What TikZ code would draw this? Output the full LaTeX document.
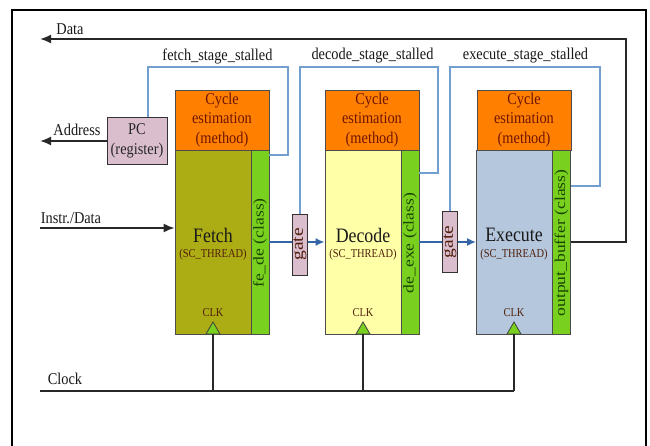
\documentclass[tikz,border=0pt]{standalone}
\usepackage{fontspec}
\setmainfont{Liberation Serif}
\newfontfamily\nf{Liberation Serif}[FakeStretch=0.87]
\usetikzlibrary{arrows.meta}
\definecolor{cycor}{RGB}{255,128,0}
\definecolor{cyctxt}{RGB}{110,20,0}
\definecolor{olivef}{RGB}{172,172,20}
\definecolor{yellf}{RGB}{255,255,168}
\definecolor{bluef}{RGB}{180,199,220}
\definecolor{grnf}{RGB}{122,208,30}
\definecolor{grntxt}{RGB}{25,70,0}
\definecolor{pinkf}{RGB}{218,190,206}
\definecolor{stallc}{RGB}{114,159,207}
\definecolor{flowc}{RGB}{52,101,164}
\definecolor{wirec}{RGB}{40,40,40}
\definecolor{thtxt}{RGB}{80,30,10}
\newcommand{\sq}[1]{\scalebox{1}[0.85]{#1}}
\tikzset{
  cycbox/.style={draw=black!70, line width=0.8pt, fill=cycor, text=cyctxt, align=center, inner sep=0pt,
    minimum width=94pt, minimum height=60pt, font=\nf\fontsize{16.5}{19.5}\selectfont},
  stagebox/.style={draw=black!70, line width=0.8pt, inner sep=0pt, minimum width=76pt, minimum height=184pt},
  strip/.style={draw=black!70, line width=0.8pt, fill=grnf, inner sep=0pt, minimum width=18pt, minimum height=184pt},
  striptxt/.style={rotate=90, text=grntxt, inner sep=0pt, font=\fontsize{17.6}{17.6}\selectfont},
  gatebox/.style={draw=black!80, line width=0.8pt, fill=pinkf, inner sep=0pt, minimum width=15pt, minimum height=61pt},
  gatetxt/.style={rotate=90, text=thtxt, inner sep=0pt, font=\fontsize{19.5}{19.5}\selectfont},
  bigtxt/.style={text=black!90, inner sep=0pt, font=\nf\fontsize{20.5}{20.5}\selectfont},
  smalltxt/.style={text=thtxt, inner sep=0pt, font=\nf\fontsize{12}{12}\selectfont},
  clktxt/.style={text=thtxt, inner sep=0pt, font=\nf\fontsize{12}{12}\selectfont},
  lbl/.style={text=black!90, inner sep=0pt, font=\nf\fontsize{16.5}{16.5}\selectfont},
  wire/.style={draw=wirec, line width=1.8pt},
  stall/.style={draw=stallc, line width=1.8pt},
  flowline/.style={draw=flowc, line width=1.8pt},
  flow/.style={draw=flowc, line width=1.8pt, -{Latex[length=9pt,width=8pt]}},
  clktri/.style={draw=black!75, line width=0.8pt, fill=grnf}
}
\begin{document}
\begin{tikzpicture}[x=1pt,y=-1pt]
\useasboundingbox (0,0) rectangle (650,446);
\fill[white] (0,0) rectangle (650,446);
% outer frame
\draw[black, line width=1.8pt] (12,446) -- (12,10) -- (646,10) -- (646,446);

% ---------- Fetch ----------
\node[cycbox] (fc) at (222,120) {Cycle\\estimation\\(method)};
\node[stagebox, fill=olivef] (fs) at (213,242) {};
\node[strip] (fstr) at (260,242) {};
\node[striptxt] (fstrt) at (260,243) {\sq{fe\_de (class)}};
\node[bigtxt] (fname) at (213,235) {Fetch};
\node[smalltxt] (fth) at (213,255) {(SC\_THREAD)};
\node[clktxt] (fclk) at (213,313) {CLK};
\draw[clktri] (206,334) -- (213,322) -- (220,334) -- cycle;
\coordinate (fclkin) at (213,334);

% ---------- Decode ----------
\node[cycbox] (dc) at (372,120) {Cycle\\estimation\\(method)};
\node[stagebox, fill=yellf] (ds) at (363,242) {};
\node[strip] (dstr) at (410,242) {};
\node[striptxt] (dstrt) at (410,243) {\sq{de\_exe (class)}};
\node[bigtxt] (dname) at (363,235) {Decode};
\node[smalltxt] (dth) at (363,255) {(SC\_THREAD)};
\node[clktxt] (dclk) at (363,313) {CLK};
\draw[clktri] (356,334) -- (363,322) -- (370,334) -- cycle;
\coordinate (dclkin) at (363,334);

% ---------- Execute ----------
\node[cycbox] (ec) at (524,120) {Cycle\\estimation\\(method)};
\node[stagebox, fill=bluef] (es) at (514.5,242) {};
\node[strip] (estr) at (561.5,242) {};
\node[striptxt] (estrt) at (561.5,243) {\sq{output\_buffer (class)}};
\node[bigtxt] (ename) at (514,235) {Execute};
\node[smalltxt] (eth) at (514,255) {(SC\_THREAD)};
\node[clktxt] (eclk) at (514,313) {CLK};
\draw[clktri] (507,334) -- (514,322) -- (521,334) -- cycle;
\coordinate (eclkin) at (514,334);

% ---------- gates ----------
\node[gatebox] (g1) at (300,244.5) {};
\node[gatetxt] (g1t) at (300,244.5) {\sq{gate}};
\node[gatebox] (g2) at (450,242) {};
\node[gatetxt] (g2t) at (450,242) {\sq{gate}};

% ---------- PC ----------
\node[draw=black!80, line width=0.8pt, fill=pinkf, inner sep=0pt, minimum width=60pt, minimum height=47pt,
      align=center, text=black!85, font=\nf\fontsize{16.5}{20}\selectfont] (pc) at (137,140.5) {PC\\(register)};

% ---------- flow arrows ----------
\draw[flowline] (fstr.east |- 0,242) -- (g1.west |- 0,242);
\draw[flow] (g1.east |- 0,242) -- (ds.west |- 0,242);
\draw[flowline] (dstr.east |- 0,242) -- (g2.west |- 0,242);
\draw[flow] (g2.east |- 0,242) -- (es.west |- 0,242);

% ---------- stall feedback lines ----------
\draw[stall] (pc.north -| 148,0) -- (148,67) -- (288,67) -- (288,155) -- (fstr.east |- 0,155);
\draw[stall] (g1.north) -- (300,67) -- (438,67) -- (438,173) -- (dstr.east |- 0,173);
\draw[stall] (g2.north) -- (450,67) -- (600,67) -- (600,186) -- (estr.east |- 0,186);
\node[lbl] (fsl) at (217.5,56) {fetch\_stage\_stalled};
\node[lbl] (dsl) at (372.5,56) {decode\_stage\_stalled};
\node[lbl] (esl) at (525.5,56) {execute\_stage\_stalled};

% ---------- Data loop ----------
\coordinate (dataend) at (40,39);
\draw[wire, -{Latex[length=11pt,width=9pt]}] (estr.east |- 0,242) -- (626,242) -- (626,39) -- (dataend);
\node[lbl] (datal) at (70,29) {Data};

% ---------- Address ----------
\coordinate (addrend) at (40,141);
\draw[wire, -{Latex[length=11pt,width=9pt]}] (pc.west |- 0,141) -- (addrend);
\node[lbl] (addrl) at (77,130) {Address};

% ---------- Instr./Data ----------
\coordinate (instrstart) at (40,228);
\draw[wire, -{Latex[length=11pt,width=9pt]}] (instrstart) -- (fs.west |- 0,228);
\node[lbl] (instrl) at (71,218) {Instr./Data};

% ---------- Clock ----------
\coordinate (clkstart) at (40,391);
\coordinate (clkend) at (514,391);
\draw[wire] (clkstart) -- (clkend);
\draw[wire] (213,391) -- (fclkin);
\draw[wire] (363,391) -- (dclkin);
\draw[wire] (clkend) -- (eclkin);
\node[lbl] (clockl) at (65,379) {Clock};
\end{tikzpicture}
\end{document}
